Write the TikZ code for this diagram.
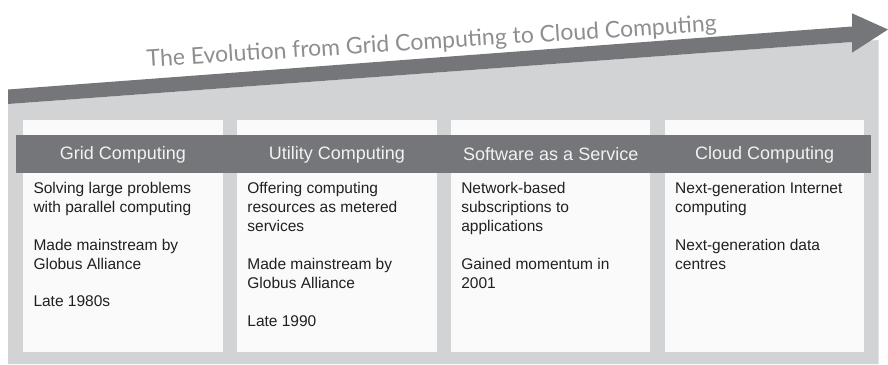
\documentclass[tikz,border=0pt]{standalone}
\usepackage{fontspec}
\setmainfont{Liberation Sans}
\newfontfamily\titlefont{Lato}
\definecolor{bandgray}{HTML}{75767A}
\definecolor{bggray}{HTML}{D1D3D4}
\definecolor{boxwhite}{HTML}{FAFAFA}
\definecolor{bodytext}{HTML}{231F20}
\definecolor{headtext}{HTML}{F2F2F2}
\definecolor{titlegray}{HTML}{8E8E90}
\tikzset{
  colbox/.style={fill=boxwhite, draw=none},
  headlabel/.style={text=headtext, font=\fontsize{18}{20}\selectfont, inner sep=0pt, anchor=center},
  bodylabel/.style={text=bodytext, inner sep=0pt, anchor=base west},
}
\newcommand{\bodytxt}[1]{\parbox[t]{185pt}{\raggedright\fontsize{15.5}{19.3}\selectfont #1}}
\begin{document}
\begin{tikzpicture}[x=1pt,y=-1pt]
\useasboundingbox (0,0) rectangle (888,364);
% gray background
\fill[bggray] (8,104) -- (878.5,40) -- (878.5,364) -- (8,364) -- cycle;
% arrow
\fill[bandgray] (8,89.5) -- (852,26.5) -- (852,13.3) -- (888,29.5) -- (852,52.7) -- (852,42) -- (8,104) -- cycle;
% title
\node[text=titlegray, font=\titlefont\fontsize{23}{26}\selectfont, inner sep=0pt, anchor=base west, rotate=3.6] (title) at (147,67) {The Evolution from Grid Computing to Cloud Computing};
% white boxes
\foreach \i in {0,1,2,3}{
  \path[colbox] ({23.3+213.9*\i},120) rectangle ({23.3+213.9*\i+199.3},352.3);
}
% header band
\fill[bandgray] (16,135) rectangle (871,172.7);
% header labels
\node[headlabel] (h1) at (122.95,154.5) {Grid Computing};
\node[headlabel] (h2) at (336.85,154.5) {Utility Computing};
\node[headlabel] (h3) at (550.75,154.5) {Software as a Service};
\node[headlabel] (h4) at (764.65,154.5) {Cloud Computing};
% body texts
\node[bodylabel] (t1) at (33.3,193.3) {\bodytxt{Solving large problems\\ with parallel computing\\[18.2pt] Made mainstream by\\ Globus Alliance\\[18.2pt] Late 1980s}};
\node[bodylabel] (t2) at (247.2,193.3) {\bodytxt{Offering computing\\ resources as metered\\ services\\[18.2pt] Made mainstream by\\ Globus Alliance\\[18.2pt] Late 1990}};
\node[bodylabel] (t3) at (461.1,193.3) {\bodytxt{Network-based\\ subscriptions to\\ applications\\[18.2pt] Gained momentum in\\ 2001}};
\node[bodylabel] (t4) at (675,193.3) {\bodytxt{Next-generation Internet\\ computing\\[18.2pt] Next-generation data\\ centres}};
\end{tikzpicture}
\end{document}
